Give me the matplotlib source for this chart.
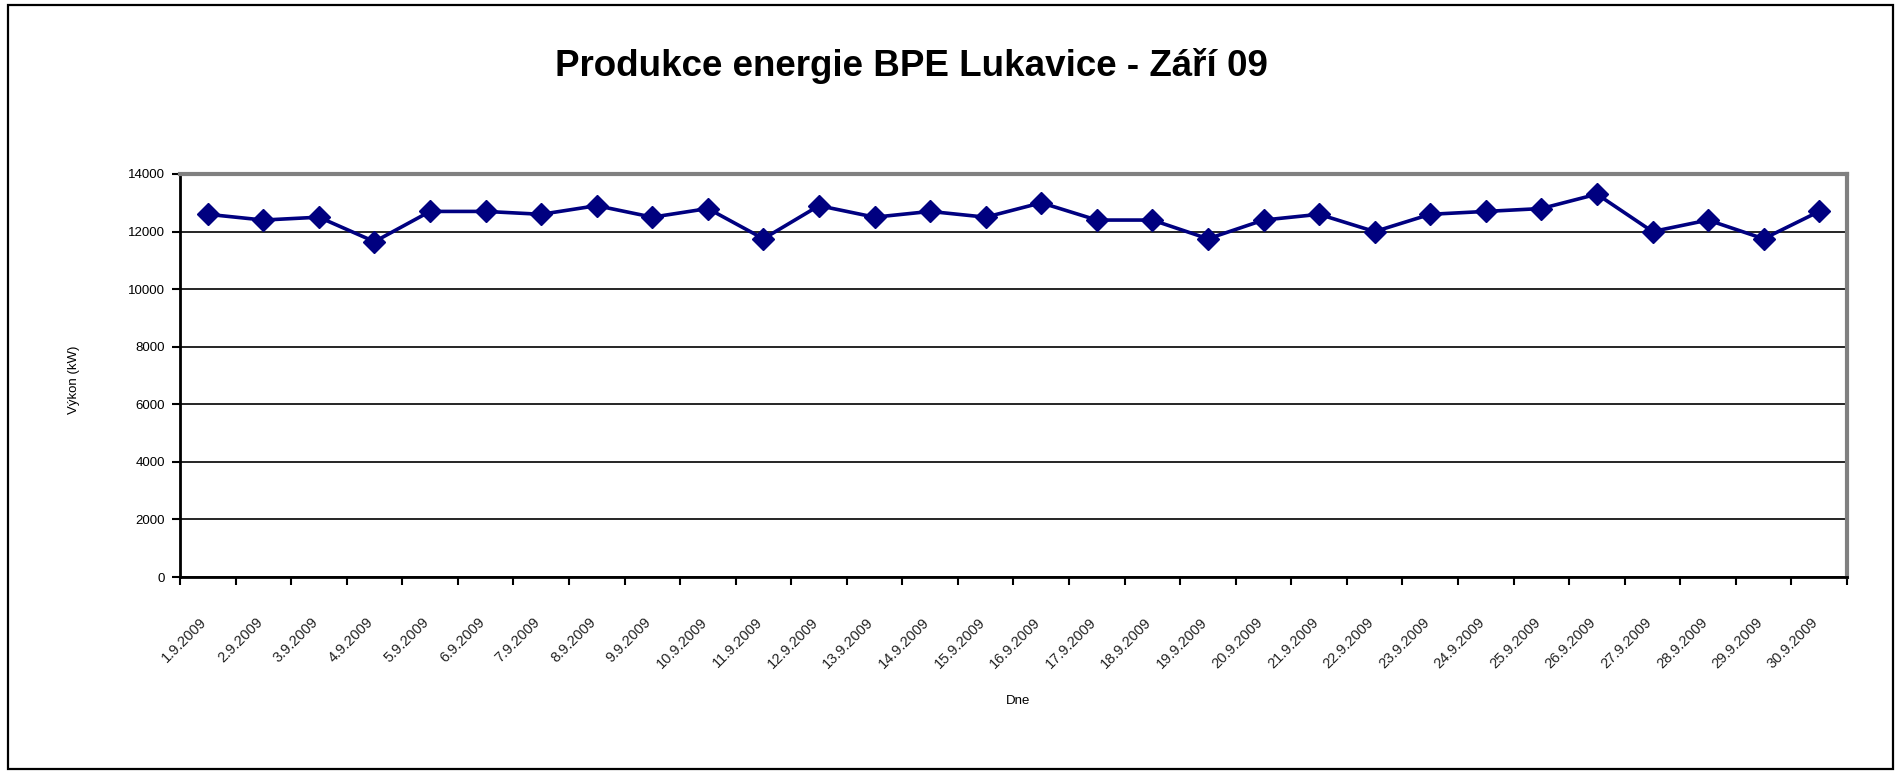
import matplotlib
matplotlib.use('Agg')
import matplotlib.pyplot as plt
import matplotlib.transforms as mtransforms
from matplotlib.patches import Rectangle

# data (kW per day, September 2009)
days = ['%d.9.2009' % d for d in range(1, 31)]
vykon = [12600, 12400, 12500, 11650, 12700, 12700, 12600, 12900, 12500, 12800,
         11750, 12900, 12500, 12700, 12500, 13000, 12400, 12400, 11750, 12400,
         12600, 12000, 12600, 12700, 12800, 13300, 12000, 12400, 11750, 12700]
yticks = [0, 2000, 4000, 6000, 8000, 10000, 12000, 14000]

W, H = 1896, 774
fig = plt.figure(figsize=(W / 100, H / 100), dpi=100)
narrow = ['Liberation Sans Narrow', 'Liberation Sans', 'DejaVu Sans']

# outer chart frame
fig.patches.append(Rectangle((8 / W, 5 / H), (1893 - 8) / W, (769 - 5) / H,
                             transform=fig.transFigure, fill=False,
                             edgecolor='black', linewidth=1.6))

ax = fig.add_axes([180 / W, 1 - 577 / H, (1847 - 180) / W, (577 - 174) / H])

x = list(range(len(days)))
ax.plot(x, vykon, color='#000080', lw=2.6, marker='D', markersize=11, zorder=3)

ax.set_xlim(-0.5, len(days) - 0.5)
ax.set_ylim(0, 14000)
ax.set_yticks(yticks)
ax.set_yticklabels([str(v) for v in yticks], family=narrow, fontsize=9.5)

ax.yaxis.grid(True, color='black', lw=1.2)
ax.set_axisbelow(True)

# category boundaries as ticks, labels centred between them
ax.set_xticks([i - 0.5 for i in range(len(days) + 1)])
ax.set_xticklabels([])
ax.set_xticks(x, minor=True)
ax.set_xticklabels(days, minor=True, rotation=45, ha='right', va='center',
                   rotation_mode='anchor', family=narrow, fontsize=10.5, color='#222222')
ax.tick_params(axis='x', which='minor', length=0, pad=31)
ax.tick_params(axis='x', which='major', length=6, width=1.5, direction='out')
ax.tick_params(axis='y', length=6, width=1.5, direction='out', pad=5)
off = mtransforms.ScaledTranslation(-3 / 100, 0, fig.dpi_scale_trans)
for lab in ax.get_xticklabels(minor=True):
    lab.set_transform(lab.get_transform() + off)

for s in ['left', 'bottom']:
    ax.spines[s].set_color('black')
    ax.spines[s].set_linewidth(2)
for s in ['top', 'right']:
    ax.spines[s].set_color('#808080')
    ax.spines[s].set_linewidth(3)

fig.text(911 / W, 1 - 66 / H, 'Produkce energie BPE Lukavice - Září 09',
         ha='center', va='center', fontsize=26.5, fontweight='bold',
         family=['Liberation Sans', 'DejaVu Sans'])
fig.text(74 / W, 1 - 380 / H, 'Výkon (kW)', rotation=90, ha='center', va='center',
         fontsize=9.5, family=narrow)
fig.text(1018 / W, 1 - 701 / H, 'Dne', ha='center', va='center',
         fontsize=9.5, family=narrow)

fig.savefig('out.png', dpi=100)
